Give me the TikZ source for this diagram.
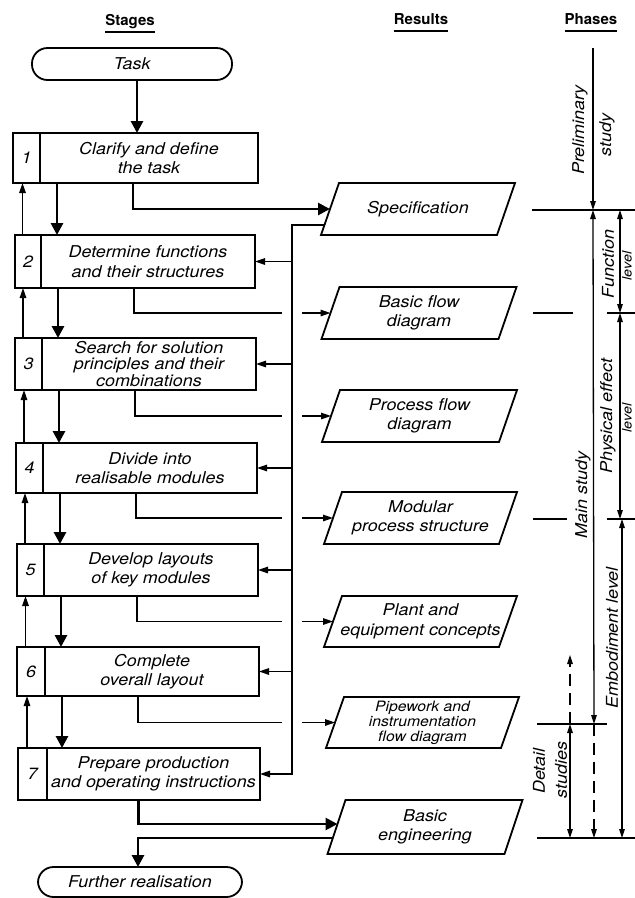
\documentclass[tikz,border=0pt]{standalone}
\usepackage{fontspec}
\newfontfamily\boxfont{TeX Gyre Heros}[FakeStretch=1.1]
\newfontfamily\headfont{TeX Gyre Heros}
\usetikzlibrary{arrows.meta,calc}

\begin{document}
\begin{tikzpicture}[x=1pt,y=-1pt,
  every node/.style={inner sep=0pt, outer sep=0pt},
  txt/.style={font=\boxfont\itshape\fontsize{16.3}{19.5}\selectfont, align=center},
  tighttxt/.style={font=\boxfont\itshape\fontsize{16.3}{16.5}\selectfont, align=center},
  smalltxt/.style={font=\boxfont\itshape\fontsize{14.3}{15}\selectfont, align=center},
  edgetxt/.style={font=\boxfont\itshape\fontsize{13}{15}\selectfont},
  head/.style={font=\headfont\bfseries\fontsize{15}{18}\selectfont},
  cell/.style={draw, line width=1.8pt, txt},
  terminal/.style={draw, line width=1.8pt, rounded corners=15.5pt, txt},
  outline/.style={line width=1.8pt, line join=miter},
  flow/.style={line width=2.8pt, -{Triangle[length=12pt,width=12pt]}},
  link/.style={line width=1.3pt},
  linkarrow/.style={line width=1.3pt, -{Triangle[length=10pt,width=6.5pt]}},
  phase/.style={line width=1.3pt},
  ptip/.tip={Triangle[length=9pt,width=5.5pt]},
]
\fill[white] (0,0) rectangle (635,898);
\useasboundingbox (0,0) rectangle (635,898);

% column headings
\node[head, anchor=base] (hst) at (130,25) {Stages};
\node[head, anchor=base] (hre) at (421,24) {Results};
\node[head, anchor=base] (hph) at (591,24) {Phases};
\foreach \h in {hst,hre,hph}
  \draw[link] ([yshift=-7pt]\h.base west) -- ([yshift=-7pt]\h.base east);

% start and end terminals
\node[terminal, minimum width=200, minimum height=32] (task) at (132,64) {Task};
\node[terminal, minimum width=204, minimum height=30] (further) at (140,882) {Further realisation};

% working stages: number cell + description cell
\node[cell, anchor=north west, minimum width=27, minimum height=50] (n1) at (13,133) {1};
\node[cell, anchor=north west, minimum width=218, minimum height=50] (s1) at (40,133) {Clarify and define\\the task};
\node[cell, anchor=north west, minimum width=26, minimum height=53] (n2) at (15,235) {2};
\node[cell, anchor=north west, minimum width=214, minimum height=53] (s2) at (41,235) {Determine functions\\and their structures};
\node[cell, anchor=north west, minimum width=27, minimum height=52] (n3) at (15,338) {3};
\node[cell, tighttxt, anchor=north west, minimum width=214, minimum height=52] (s3) at (42,338) {Search for solution\\principles and their\\combinations};
\node[cell, anchor=north west, minimum width=27, minimum height=50] (n4) at (16,443) {4};
\node[cell, anchor=north west, minimum width=214, minimum height=50] (s4) at (43,443) {Divide into\\realisable modules};
\node[cell, anchor=north west, minimum width=27, minimum height=52] (n5) at (17,544) {5};
\node[cell, anchor=north west, minimum width=214, minimum height=52] (s5) at (44,544) {Develop layouts\\of key modules};
\node[cell, anchor=north west, minimum width=28, minimum height=49] (n6) at (17,647) {6};
\node[cell, anchor=north west, minimum width=214, minimum height=49] (s6) at (45,647) {Complete\\overall layout};
\node[cell, anchor=north west, minimum width=29, minimum height=52] (n7) at (18,748) {7};
\node[cell, anchor=north west, minimum width=213, minimum height=52] (s7) at (47,748) {Prepare production\\and operating instructions};

% results (parallelograms drawn around the text nodes)
\node[txt, minimum width=176, minimum height=52] (spec) at (418,209) {Specification};
\node[txt, minimum width=177, minimum height=52] (bflow) at (419,313) {Basic flow\\diagram};
\node[txt, minimum width=177, minimum height=52] (pflow) at (419.5,416) {Process flow\\diagram};
\node[txt, minimum width=175, minimum height=52] (mod) at (420.5,518) {Modular\\process structure};
\node[txt, minimum width=175, minimum height=51] (plant) at (420.5,621.5) {Plant and\\equipment concepts};
\node[smalltxt, minimum width=175, minimum height=51] (pipe) at (422.5,722.5) {Pipework and\\instrumentation\\flow diagram};
\node[txt, minimum width=177, minimum height=54] (beng) at (425,827) {Basic\\engineering};
\foreach \r in {spec,bflow,pflow,mod,plant,pipe,beng}
  \draw[outline] ([xshift=-9pt]\r.south west) -- ([xshift=9pt]\r.north west)
     -- ([xshift=9pt]\r.north east) -- ([xshift=-9pt]\r.south east) -- cycle;

% main flow between stages
\draw[flow] ([xshift=5pt]task.south) -- ([xshift=5pt]task.south |- s1.north);
\foreach \a/\b in {s1/s2,s2/s3,s3/s4,s4/s5,s5/s6,s6/s7}
  \draw[flow] ([xshift=17pt]\a.south west) -- ([xshift=17pt]\a.south west |- \b.north);
% iteration back to the previous stage
\foreach \a/\b in {n1/n2,n2/n3,n3/n4,n4/n5,n5/n6,n6/n7}
  \draw[linkarrow] ([xshift=-5.5pt]\b.north) -- ([xshift=-5.5pt]\b.north |- \a.south);

% stage outputs to results
\draw[flow] ([xshift=-16pt]s1.south) |- (spec.west);
\coordinate (fbT) at (292,225);
\foreach \s/\r in {s2/bflow,s3/pflow,s4/mod,s5/plant,s6/pipe} {
  \draw[link] ([xshift=-14pt]\s.south) |- ($(fbT |- \r.west)+(-10,0)$);
  \draw[linkarrow] ($(fbT |- \r.west)+(10,0)$) -- (\r.west);
}
\draw[flow] ([xshift=-15pt]s7.south) |- ([xshift=1pt,yshift=3pt]beng.west);
\draw[flow] ([xshift=-4pt,yshift=-11pt]beng.west) -| ([xshift=-2pt]further.north);

% specification fed back to every later stage
\draw[linkarrow] ([xshift=-6pt,yshift=-16pt]spec.west) -- (fbT) -- (fbT |- s7.east) -- (s7.east);
\foreach \s in {s2,s3,s4,s5,s6}
  \draw[linkarrow] (fbT |- \s.east) -- (\s.east);

% phase boundaries
\draw[phase] (532,210) -- (640,210);
\draw[phase] (533,313) -- (573,313);
\draw[phase] (607,313) -- (640,313);
\draw[phase] (533,519) -- (567,519);
\draw[phase] (607,519) -- (640,519);
\draw[phase] (537,724) -- (607,724);
\draw[phase] (537,838) -- (640,838);

% phase extents
\draw[phase, -ptip] (593,48) -- (593,210);
\draw[phase, ptip-ptip] (593,210) -- (594,724);
\draw[phase, dash pattern=on 12pt off 7pt, -ptip] (594,724) -- (594,838);
\draw[phase, ptip-ptip] (570,724) -- (570,838);
\draw[phase, dash pattern=on 12pt off 7pt, -ptip] (570,724) -- (570,655);
\draw[phase, ptip-ptip] (620,210) -- (620,313);
\draw[phase, ptip-ptip] (620,313) -- (620,519);
\draw[phase, ptip-ptip] (622,519) -- (622,838);

% phase labels
\node[txt, rotate=90] (tpre) at (580,130) {Preliminary};
\node[txt, rotate=90] (tpre2) at (607,135) {study};
\node[txt, rotate=90] (tmain) at (583,495) {Main study};
\node[txt, rotate=90] (tfun) at (608,264) {Function};
\node[edgetxt, rotate=90] (tfun2) at (627,266) {level};
\node[txt, rotate=90] (tphy) at (608,416) {Physical effect};
\node[edgetxt, rotate=90] (tphy2) at (627,418) {level};
\node[txt, rotate=90] (temb) at (612,638) {Embodiment level};
\node[txt, rotate=90] (tdet) at (539,771) {Detail};
\node[txt, rotate=90] (tdet2) at (561,770) {studies};
\end{tikzpicture}
\end{document}
